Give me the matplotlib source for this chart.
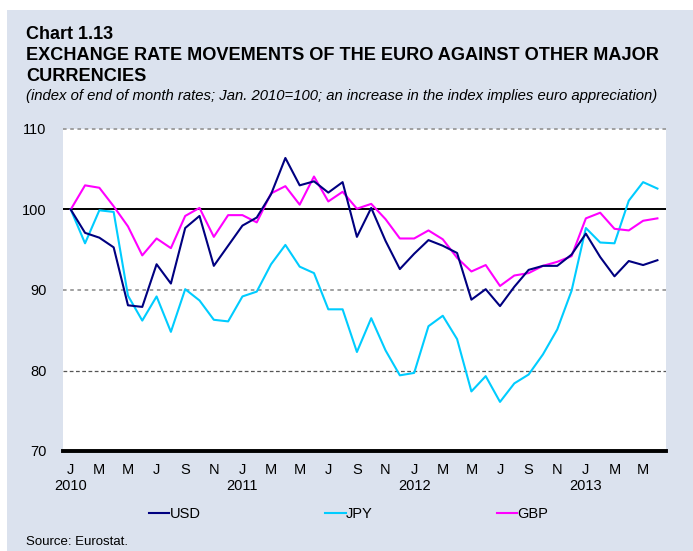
import matplotlib.pyplot as plt
from matplotlib.patches import Rectangle

plt.rcParams['font.family'] = ['Liberation Sans', 'DejaVu Sans']

# monthly index, Jan 2010 .. Jun 2013 (Jan 2010 = 100)
months = list(range(42))
usd = [100, 97.1, 96.5, 95.3, 88.1, 87.9, 93.2, 90.8, 97.7, 99.2, 93.0, 95.5, 98.0, 99.0,
       101.9, 106.4, 103.0, 103.5, 102.1, 103.4, 96.6, 100.2, 96.1, 92.6, 94.5, 96.2, 95.5, 94.6,
       88.8, 90.1, 88.0, 90.4, 92.5, 93.0, 93.0, 94.4, 97.0, 94.1, 91.7, 93.6, 93.1, 93.7]
jpy = [100, 95.8, 99.9, 99.7, 89.3, 86.2, 89.2, 84.8, 90.1, 88.7, 86.3, 86.1, 89.2, 89.8,
       93.2, 95.6, 92.9, 92.1, 87.6, 87.6, 82.3, 86.5, 82.5, 79.4, 79.7, 85.5, 86.8, 83.9,
       77.4, 79.3, 76.1, 78.4, 79.5, 82.0, 85.1, 89.9, 97.7, 95.9, 95.8, 101.1, 103.4, 102.6]
gbp = [100, 103.0, 102.7, 100.4, 97.9, 94.3, 96.4, 95.2, 99.2, 100.2, 96.6, 99.3, 99.3, 98.4,
       102.0, 102.9, 100.6, 104.1, 101.0, 102.2, 100.1, 100.7, 98.8, 96.4, 96.4, 97.4, 96.3, 94.0,
       92.3, 93.1, 90.5, 91.8, 92.1, 93.0, 93.5, 94.2, 98.9, 99.6, 97.6, 97.4, 98.6, 98.9]

tick_pos = list(range(0, 42, 2))
tick_labels = ['J\n2010', 'M', 'M', 'J', 'S', 'N',
               'J\n2011', 'M', 'M', 'J', 'S', 'N',
               'J\n2012', 'M', 'M', 'J', 'S', 'N',
               'J\n2013', 'M', 'M']
y_ticks = [70, 80, 90, 100, 110]

panel = '#DBE2EE'
fig = plt.figure(figsize=(6.93, 5.51), dpi=100, facecolor='white')
fig.patches.append(Rectangle((7 / 693, 0), 1, 1 - 10 / 551, transform=fig.transFigure,
                             facecolor=panel, edgecolor='none', zorder=-10))

ax = fig.add_axes([63 / 693, 100 / 551, 603 / 693, 322 / 551])
ax.set_facecolor('white')

ax.plot(months, usd, color='#000080', lw=1.5, label='USD', zorder=4)
ax.plot(months, jpy, color='#00CCFF', lw=1.5, label='JPY', zorder=3)
ax.plot(months, gbp, color='#FF00FF', lw=1.5, label='GBP', zorder=3)

ax.axhline(100, color='black', lw=1.4, zorder=2)
ax.axhline(110, color='#999999', lw=1.3, ls=(0, (2, 2)), clip_on=False, zorder=1)
ax.axhline(90, color='#999999', lw=1.3, ls=(0, (2, 2)), zorder=1)
ax.axhline(80, color='#555555', lw=0.9, ls=(0, (3, 2)), zorder=1)

ax.set_xlim(-0.54, 41.6)
ax.set_ylim(70, 110)
ax.set_yticks(y_ticks)
ax.set_xticks(tick_pos)
ax.set_xticklabels(tick_labels, fontsize=10.5, linespacing=1.1)
ax.tick_params(axis='y', length=0, pad=12, labelsize=10.5)
ax.tick_params(axis='x', length=0, pad=9)
for s in ['top', 'right', 'left']:
    ax.spines[s].set_visible(False)
ax.spines['bottom'].set_linewidth(2.8)
ax.spines['bottom'].set_zorder(5)

fig.text(26 / 693, 1 - 39 / 551, 'Chart 1.13', fontsize=13, fontweight='bold', va='baseline')
fig.text(26 / 693, 1 - 60 / 551, 'EXCHANGE RATE MOVEMENTS OF THE EURO AGAINST OTHER MAJOR',
         fontsize=13.1, fontweight='bold', va='baseline')
fig.text(26 / 693, 1 - 81 / 551, 'CURRENCIES', fontsize=13.1, fontweight='bold', va='baseline')
fig.text(26 / 693, 1 - 100 / 551,
         '(index of end of month rates; Jan. 2010=100; an increase in the index implies euro appreciation)',
         fontsize=10.7, style='italic', va='baseline')

fig.legend(loc='center left', bbox_to_anchor=(149 / 693, 1 - 514 / 551), ncol=3, frameon=False,
           fontsize=10.5, handlelength=1.4, handletextpad=0.0, columnspacing=8.55, borderpad=0,
           borderaxespad=0)

fig.text(26 / 693, 1 - 545 / 551, 'Source: Eurostat.', fontsize=9.5, va='baseline')

fig.savefig('out.png', dpi=100, facecolor=fig.get_facecolor())
